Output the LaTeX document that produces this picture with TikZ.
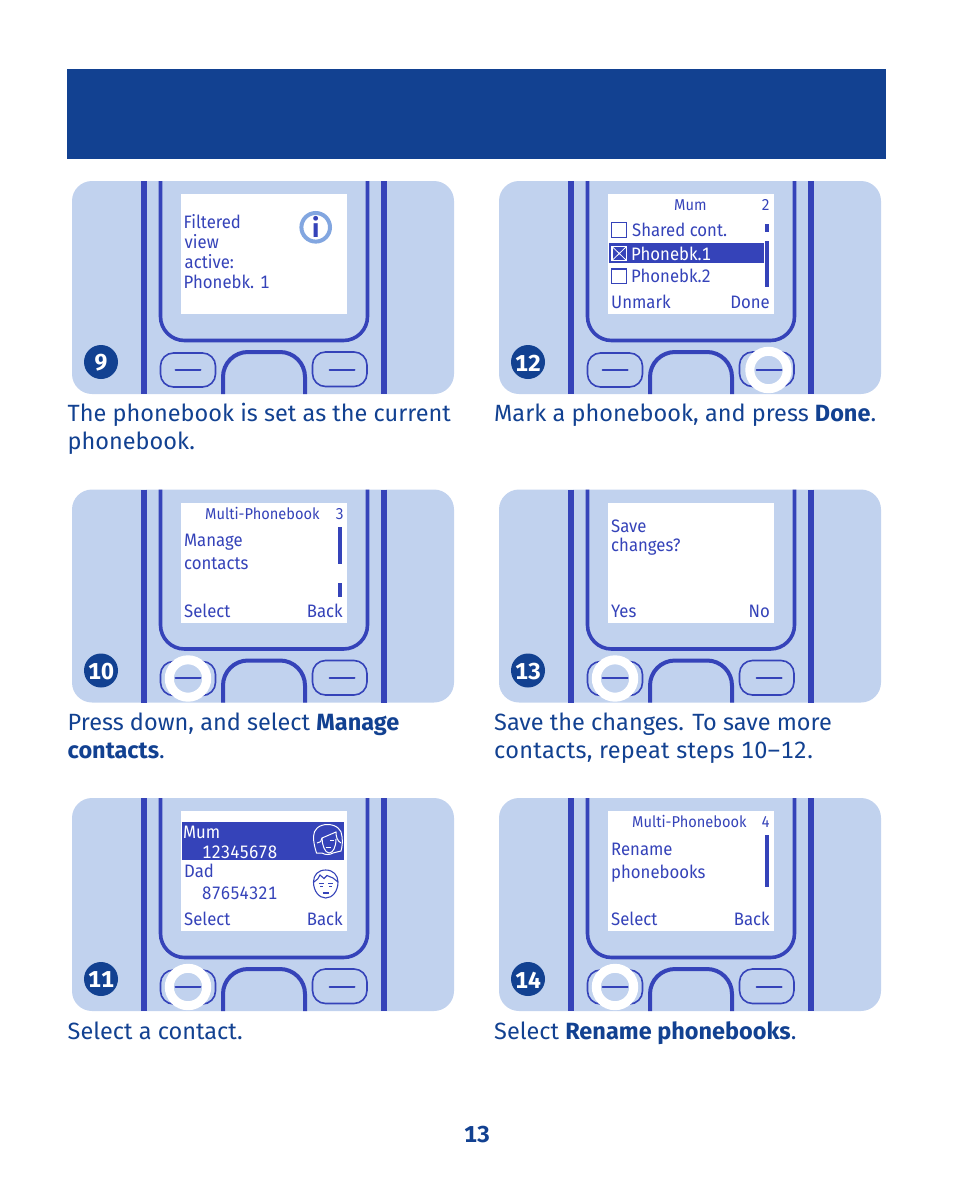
\documentclass[tikz,border=0pt]{standalone}
\usepackage{fontspec}
\usepackage{xcolor}
\setmainfont[Numbers=Monospaced]{Fira Sans}
\newfontfamily\screenfont[FakeStretch=0.93,Numbers=Monospaced]{Fira Sans}
\definecolor{headblue}{HTML}{124191}
\definecolor{phoneblue}{HTML}{3543B9}
\definecolor{panelblue}{HTML}{C1D2EE}
\definecolor{infoblue}{HTML}{82A6E0}
\tikzset{
  caption/.style={anchor=base west,inner sep=0pt,text=headblue,font=\fontsize{23.5}{23.5}\selectfont},
  scr/.style={anchor=base west,inner sep=0pt,text=phoneblue,font=\screenfont\fontsize{18}{18}\selectfont},
  scrr/.style={scr,anchor=base east},
  scrtop/.style={scr,font=\screenfont\fontsize{15.7}{15.7}\selectfont},
  keyline/.style={draw=phoneblue,line width=1.6pt},
  scrollbar/.style={fill=phoneblue},
  tick/.style={draw=phoneblue,line width=2pt},
}
% #1 name, #2 x, #3 y, #4 number
\newcommand{\phone}[4]{
  \begin{scope}[shift={(#2,#3)}]
    \fill[panelblue,rounded corners=20pt] (0,0) rectangle (382,213);
    \draw[phoneblue,line width=6pt] (71.5,0) -- (71.5,213);
    \draw[phoneblue,line width=6pt] (312,0) -- (312,213);
    \draw[phoneblue,line width=3.6pt,rounded corners=24pt] (88.5,0) -- (88.5,159.5) -- (295.5,159.5) -- (295.5,0);
    \fill[white] (108.5,13) rectangle (275,133);
    \draw[keyline,rounded corners=13pt] (88.5,172) rectangle (143.5,206);
    \draw[keyline,rounded corners=13pt] (240.5,171) rectangle (295,205.5);
    \draw[phoneblue,line width=4pt,rounded corners=25pt] (151,213) -- (151,171) -- (233,171) -- (233,213);
    \fill[headblue] (29,181) circle (17);
    \node[text=white,font=\bfseries\fontsize{23}{23}\selectfont,inner sep=0pt] (#1) at (29,182) {#4};
  \end{scope}
}
% #1 x, #2 y of the pressed key centre
\newcommand{\press}[2]{\draw[white,line width=9pt] (#1,#2) circle (18.7)}
\newcommand{\dashes}[2]{
  \draw[tick,line cap=round] (#1,#2) ++(103.5,189) -- ++(25,0);
  \draw[tick,line cap=round] (#1,#2) ++(257.5,189) -- ++(25,0);
}

\begin{document}
\begin{tikzpicture}[x=1pt,y=-1pt]
  \useasboundingbox (0,0) rectangle (954,1180);
  \fill[headblue] (67,69) rectangle (886,159);

  % left column
  \phone{nine}{72}{181}{9}
  \dashes{72}{181}
  \phone{ten}{72}{489.5}{10}
  \press{188}{678.5};
  \dashes{72}{489}
  \phone{eleven}{72}{798}{11}
  \press{188}{987};
  \dashes{72}{798}

  % right column
  \phone{twelve}{499}{181}{12}
  \press{768.5}{370};
  \dashes{499}{181}
  \phone{thirteen}{499}{489.5}{13}
  \press{615}{678.5};
  \dashes{499}{489}
  \phone{fourteen}{499}{798}{14}
  \press{615}{987};
  \dashes{499}{798}

  % 9
  \node[scr] (fil) at (183.5,228) {Filtered};
  \node[scr] (vie) at (184.5,248) {view};
  \node[scr] (act) at (184.5,268) {active:};
  \node[scr] (pho) at (183.5,288) {Phonebk. 1};
  \draw[infoblue,line width=4pt] (315.7,227.3) circle (14.3);
  \node[text=phoneblue,inner sep=0pt,font=\bfseries\fontsize{26}{26}\selectfont] (info) at (315.7,227.3) {i};

  % 10
  \node[scrtop] (mp3) at (205,519) {Multi-Phonebook};
  \node[scrtop,anchor=base east] (n3) at (344,519) {3};
  \node[scr] (man) at (184,546) {Manage};
  \node[scr] (con) at (184,569) {contacts};
  \fill[scrollbar] (338,527) rectangle (342,564);
  \fill[scrollbar] (338,583) rectangle (342,597);
  \node[scr] (sel10) at (184,617) {Select};
  \node[scrr] (bac10) at (343,617) {Back};

  % 11
  \fill[phoneblue] (182,822) rectangle (344,860);
  \node[scr,text=white] (mum) at (183,838) {Mum};
  \node[scr,text=white] (num1) at (202,858) {12345678};
  \node[scr] (dad) at (184,877) {Dad};
  \node[scr] (num2) at (202,899) {87654321};
  \node[scr] (sel11) at (184,925.5) {Select};
  \node[scrr] (bac11) at (343,925.5) {Back};
  % mum
  \draw[white,line width=1pt,line join=round] (327.5,824.5) .. controls (319,824.5) and (313.5,829.5) .. (313.5,836.5)
    .. controls (313.5,843) and (315,848) .. (316.5,853) -- (322,853) .. controls (325,855) and (330,855) .. (333,853) -- (341,851)
    .. controls (342.5,846) and (342.5,841) .. (342,836.5) .. controls (342,829.5) and (336,824.5) .. (327.5,824.5) -- cycle;
  \draw[white,line width=1pt] (317,843) .. controls (320,843) and (322,841) .. (322,838) -- (336,832)
    .. controls (336,836) and (337,841) .. (341,843);
  \draw[white,line width=1pt] (322,838) .. controls (322,845) and (325,853) .. (329,853) .. controls (333,853) and (336,847) .. (336,839);
  \draw[white,line width=1pt] (325.5,847) -- (331,847);
  \draw[white,line width=1pt] (330,840) -- (334,840);
  % dad
  \draw[phoneblue,line width=1.1pt] (325.7,870) .. controls (318,870) and (313.5,875) .. (313.5,882)
    .. controls (313.5,891) and (319,898) .. (325.7,898) .. controls (332.5,898) and (338,891) .. (338,882)
    .. controls (338,875) and (333,870) .. (325.7,870) -- cycle;
  \draw[phoneblue,line width=1.1pt] (314,882) .. controls (317,880) and (319,878) .. (320,875) -- (324,878.5) -- (327,875.5) -- (333,878) -- (338,882);
  \draw[phoneblue,line width=1pt] (318.5,883.5) -- (323.5,883.5) (328,883.5) -- (333,883.5);
  \draw[phoneblue,line width=1pt] (320,886.5) -- (322.5,886.5) (329,886.5) -- (331.5,886.5);
  \draw[phoneblue,line width=1.5pt] (322.5,893) -- (329,893);

  % 12
  \node[scrtop] (mum12) at (674,210) {Mum};
  \node[scrtop,anchor=base east] (n2) at (770,210) {2};
  \draw[phoneblue,line width=1.8pt] (611.5,222.5) rectangle (626.5,237.5);
  \node[scr] (sha) at (632,236) {Shared cont.};
  \fill[scrollbar] (765,224) rectangle (769,231.5);
  \fill[phoneblue] (609,243) rectangle (764,263);
  \draw[white,line width=1.2pt] (612,246.5) rectangle (626.5,260.5);
  \draw[white,line width=.8pt] (612,246.5) -- (626.5,260.5) (612,260.5) -- (626.5,246.5);
  \node[scr,text=white] (pb1) at (631,260) {Phonebk.1};
  \fill[scrollbar] (765,241) rectangle (769,287);
  \draw[phoneblue,line width=1.8pt] (611.5,269) rectangle (626.5,283.5);
  \node[scr] (pb2) at (631,282.5) {Phonebk.2};
  \node[scr] (unm) at (611,308.5) {Unmark};
  \node[scrr] (don) at (770,308.5) {Done};

  % 13
  \node[scr] (sav) at (611,532) {Save};
  \node[scr] (cha) at (611,551) {changes?};
  \node[scr] (yes) at (611,617) {Yes};
  \node[scrr] (no) at (770,617) {No};

  % 14
  \node[scrtop] (mp4) at (632,827.5) {Multi-Phonebook};
  \node[scrtop,anchor=base east] (n4) at (770,827.5) {4};
  \node[scr] (ren) at (611,855) {Rename};
  \node[scr] (phb) at (611,878) {phonebooks};
  \fill[scrollbar] (765,835) rectangle (769,887);
  \node[scr] (sel14) at (611,925.5) {Select};
  \node[scrr] (bac14) at (770,925.5) {Back};

  % captions
  \node[caption] (cap9a) at (67.5,421.5) {The phonebook is set as the current};
  \node[caption] (cap9b) at (67.5,449.5) {phonebook.};
  \node[caption] (cap10a) at (67.5,730.5) {Press down, and select \textbf{Manage}};
  \node[caption] (cap10b) at (67.5,758.5) {\textbf{contacts}.};
  \node[caption] (cap11) at (67.5,1039.5) {Select a contact.};
  \node[caption] (cap12) at (494,421.5) {Mark a phonebook, and press \textbf{Done}.};
  \node[caption] (cap13a) at (494,730.5) {Save the changes. To save more};
  \node[caption] (cap13b) at (494,758.5) {\addfontfeature{LetterSpace=1.4}contacts, repeat steps 10–12.};
  \node[caption] (cap14) at (494,1039.5) {Select \textbf{Rename phonebooks}.};
  \node[text=headblue,inner sep=0pt,font=\bfseries\fontsize{23}{23}\selectfont,anchor=base] (page) at (477,1142.5) {13};
\end{tikzpicture}
\end{document}
